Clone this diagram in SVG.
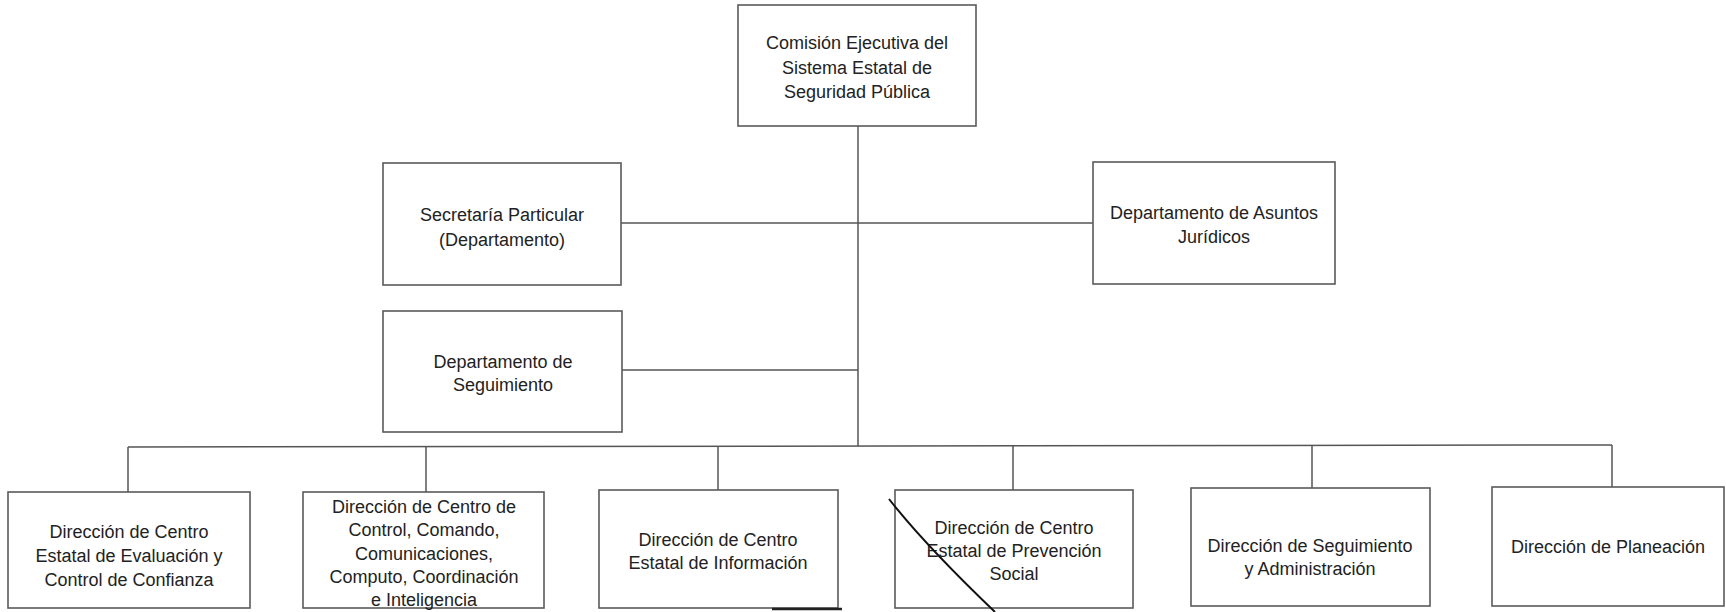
<svg xmlns="http://www.w3.org/2000/svg" width="1726" height="612" viewBox="0 0 1726 612">
<style>
.box{fill:#fff;stroke:#5a5a5a;stroke-width:1.6}
.conn{fill:none;stroke:#555;stroke-width:1.5}
text{font-family:"Liberation Sans",Arial,sans-serif;font-size:18px;fill:#222;text-anchor:middle}
</style>
<rect width="1726" height="612" fill="#fff"/>
<g id="connectors">
<line class="conn" x1="858" y1="126" x2="858" y2="446"/>
<line class="conn" x1="621" y1="223" x2="1093" y2="223"/>
<line class="conn" x1="622" y1="370" x2="858" y2="370"/>
<line class="conn" x1="128" y1="447" x2="1612" y2="445"/>
<line class="conn" x1="128" y1="447" x2="128" y2="492"/>
<line class="conn" x1="426" y1="447" x2="426" y2="492"/>
<line class="conn" x1="718" y1="446" x2="718" y2="490"/>
<line class="conn" x1="1013" y1="446" x2="1013" y2="490"/>
<line class="conn" x1="1312" y1="445" x2="1312" y2="488"/>
<line class="conn" x1="1612" y1="445" x2="1612" y2="487"/>
</g>
<g id="n-comision">
<rect class="box" x="738" y="5" width="238" height="121"/>
<text x="857" y="49">Comisión Ejecutiva del</text>
<text x="857" y="74">Sistema Estatal de</text>
<text x="857" y="98">Seguridad Pública</text>
</g>
<g id="n-secretaria">
<rect class="box" x="383" y="163" width="238" height="122"/>
<text x="502" y="221">Secretaría Particular</text>
<text x="502" y="246">(Departamento)</text>
</g>
<g id="n-juridicos">
<rect class="box" x="1093" y="162" width="242" height="122"/>
<text x="1214" y="219">Departamento de Asuntos</text>
<text x="1214" y="243">Jurídicos</text>
</g>
<g id="n-seguimiento">
<rect class="box" x="383" y="311" width="239" height="121"/>
<text x="503" y="368">Departamento de</text>
<text x="503" y="391">Seguimiento</text>
</g>
<g id="n-evaluacion">
<rect class="box" x="8" y="492" width="242" height="116"/>
<text x="129" y="538">Dirección de Centro</text>
<text x="129" y="562">Estatal de Evaluación y</text>
<text x="129" y="586">Control de Confianza</text>
</g>
<g id="n-c5">
<rect class="box" x="303" y="492" width="241" height="116"/>
<text x="424" y="513">Dirección de Centro de</text>
<text x="424" y="536">Control, Comando,</text>
<text x="424" y="560">Comunicaciones,</text>
<text x="424" y="583">Computo, Coordinación</text>
<text x="424" y="606">e Inteligencia</text>
</g>
<g id="n-informacion">
<rect class="box" x="599" y="490" width="239" height="118"/>
<text x="718" y="546">Dirección de Centro</text>
<text x="718" y="569">Estatal de Información</text>
</g>
<g id="n-prevencion">
<rect class="box" x="895" y="490" width="238" height="118"/>
<text x="1014" y="534">Dirección de Centro</text>
<text x="1014" y="557">Estatal de Prevención</text>
<text x="1014" y="580">Social</text>
</g>
<g id="n-administracion">
<rect class="box" x="1191" y="488" width="239" height="118"/>
<text x="1310" y="552">Dirección de Seguimiento</text>
<text x="1310" y="575">y Administración</text>
</g>
<g id="n-planeacion">
<rect class="box" x="1492" y="487" width="232" height="119"/>
<text x="1608" y="553">Dirección de Planeación</text>
</g>
<path d="M889,499 Q925,545 995,612" fill="none" stroke="#111" stroke-width="2"/>
<line x1="772" y1="609" x2="842" y2="609" stroke="#222" stroke-width="2.5"/>
</svg>
